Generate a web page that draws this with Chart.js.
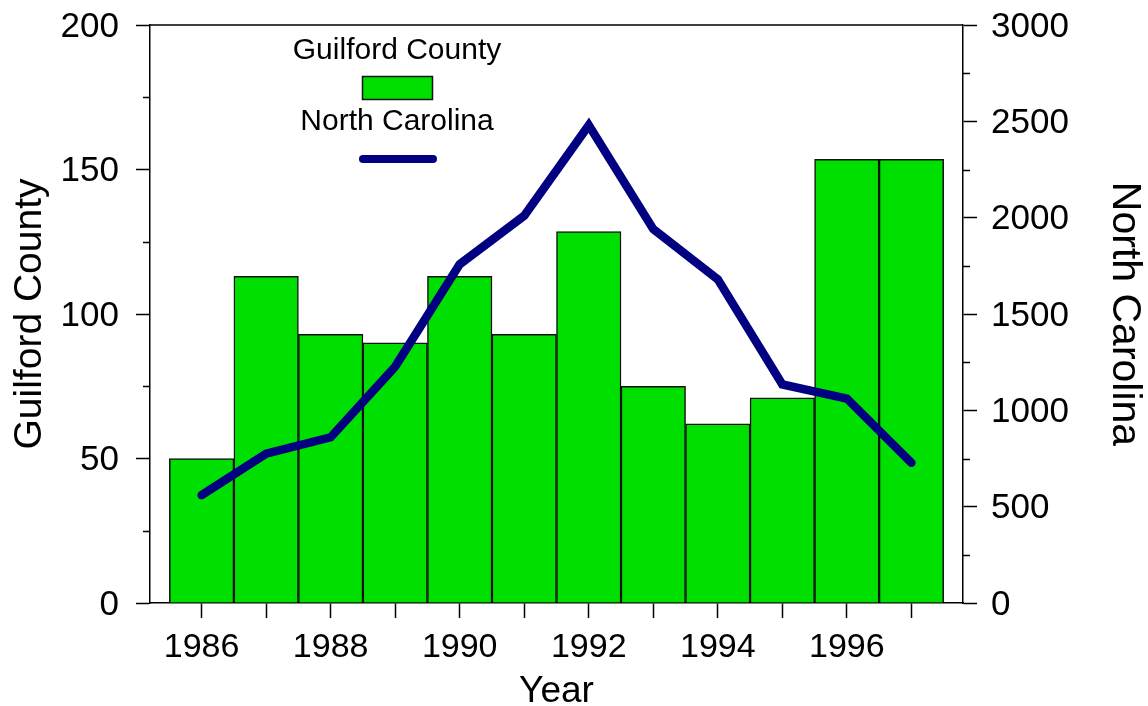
<!DOCTYPE html>
<html>
<head>
<meta charset="utf-8">
<title>Guilford County vs North Carolina</title>
<script src="https://cdn.jsdelivr.net/npm/chart.js@4.4.1/dist/chart.umd.min.js"></script>
<style>
  html, body { margin: 0; padding: 0; background: #fff; }
  #chart { display: block; }
</style>
</head>
<body>
<canvas id="chart" width="1148" height="706"></canvas>
<script>
// data
const years = [1986, 1987, 1988, 1989, 1990, 1991, 1992, 1993, 1994, 1995, 1996, 1997];
const guilfordCounty = [50, 113, 93, 90, 113, 93, 128.5, 75, 62, 71, 153.5, 153.5];
const northCarolina = [560, 775, 860, 1227, 1758, 2010, 2480, 1940, 1680, 1134, 1061, 728];
const leftTicks = [0, 50, 100, 150, 200];
const leftMinor = [25, 75, 125, 175];
const rightTicks = [0, 500, 1000, 1500, 2000, 2500, 3000];
const rightMinor = [250, 750, 1250, 1750, 2250, 2750];

const FONT = "'Liberation Sans', Arial, sans-serif";
const GREEN = '#00e000';
const NAVY = '#000080';

// minor ticks, top frame line and the in-plot legend
const framePlugin = {
    id: 'frame',
    afterDraw(chart) {
        const ctx = chart.ctx;
        const area = chart.chartArea;
        const y = chart.scales.y;
        const y2 = chart.scales.y2;
        ctx.save();
        ctx.strokeStyle = '#000';
        ctx.lineWidth = 1.5;
        ctx.beginPath();
        ctx.moveTo(area.left, area.top);
        ctx.lineTo(area.right, area.top);
        leftMinor.forEach(v => {
            const p = Math.round(y.getPixelForValue(v)) + 0.5;
            ctx.moveTo(area.left - 7, p);
            ctx.lineTo(area.left, p);
        });
        rightMinor.forEach(v => {
            const p = Math.round(y2.getPixelForValue(v)) + 0.5;
            ctx.moveTo(area.right, p);
            ctx.lineTo(area.right + 7, p);
        });
        ctx.stroke();

        // legend
        const ds = chart.data.datasets;
        const cx = 397;
        ctx.fillStyle = '#000';
        ctx.font = '30px ' + FONT;
        ctx.textAlign = 'center';
        ctx.textBaseline = 'middle';
        ctx.fillText(ds[1].label, cx, 51);
        ctx.fillStyle = GREEN;
        ctx.fillRect(362, 76, 70, 23);
        ctx.strokeStyle = '#111';
        ctx.lineWidth = 1.5;
        ctx.strokeRect(362.5, 76.5, 70, 23);
        ctx.fillStyle = '#000';
        ctx.fillText(ds[0].label, cx, 122);
        ctx.strokeStyle = NAVY;
        ctx.lineWidth = 8;
        ctx.lineCap = 'round';
        ctx.beginPath();
        ctx.moveTo(363, 159);
        ctx.lineTo(433, 159);
        ctx.stroke();
        ctx.restore();
    }
};

function fixY(width) {
    return s => {
        s.width = width;
        s.paddingTop = 0;
        s.paddingBottom = 0;
    };
}

const ctx = document.getElementById('chart');
new Chart(ctx, {
    type: 'bar',
    data: {
        datasets: [{
            type: 'line',
            label: 'North Carolina',
            data: years.map((yr, i) => ({ x: yr, y: northCarolina[i] })),
            yAxisID: 'y2',
            borderColor: NAVY,
            borderWidth: 8.5,
            borderCapStyle: 'round',
            borderJoinStyle: 'miter',
            pointRadius: 0,
            tension: 0,
            order: 0
        }, {
            type: 'bar',
            label: 'Guilford County',
            data: years.map((yr, i) => ({ x: yr, y: guilfordCounty[i] })),
            yAxisID: 'y',
            backgroundColor: GREEN,
            borderColor: '#111',
            borderWidth: 1.5,
            barPercentage: 1,
            categoryPercentage: 1,
            order: 1
        }]
    },
    options: {
        responsive: false,
        devicePixelRatio: 1,
        animation: false,
        layout: { padding: { top: 25, left: 0, right: 0, bottom: 0 } },
        plugins: {
            legend: { display: false },
            tooltip: { enabled: false }
        },
        scales: {
            x: {
                type: 'linear',
                min: 1985.2,
                max: 1997.8,
                offset: false,
                afterBuildTicks: s => { s.ticks = years.map(v => ({ value: v })); },
                afterFit: s => { s.height = 103; s.paddingLeft = 0; s.paddingRight = 0; },
                grid: { offset: false, drawOnChartArea: false, tickLength: 15, tickColor: '#000', tickWidth: 1.5 },
                border: { color: '#000', width: 1.5 },
                ticks: {
                    autoSkip: false,
                    maxRotation: 0,
                    padding: 9,
                    color: '#000',
                    font: { family: FONT, size: 34 },
                    callback: v => (v % 2 === 0 ? String(v) : '')
                },
                title: {
                    display: true,
                    text: 'Year',
                    color: '#000',
                    font: { family: FONT, size: 37, lineHeight: 0.75 },
                    padding: 0
                }
            },
            y: {
                position: 'left',
                min: 0,
                max: 200,
                afterBuildTicks: s => { s.ticks = leftTicks.map(v => ({ value: v })); },
                afterFit: fixY(150),
                grid: { drawOnChartArea: false, tickLength: 14, tickColor: '#000', tickWidth: 1.5 },
                border: { color: '#000', width: 1.5 },
                ticks: {
                    padding: 17,
                    labelOffset: 2,
                    color: '#000',
                    font: { family: FONT, size: 35 }
                },
                title: {
                    display: true,
                    text: 'Guilford County',
                    color: '#000',
                    font: { family: FONT, size: 39, lineHeight: 1 },
                    padding: { top: 11 }
                }
            },
            y2: {
                position: 'right',
                min: 0,
                max: 3000,
                afterBuildTicks: s => { s.ticks = rightTicks.map(v => ({ value: v })); },
                afterFit: fixY(185),
                grid: { drawOnChartArea: false, tickLength: 14, tickColor: '#000', tickWidth: 1.5 },
                border: { color: '#000', width: 1.5 },
                ticks: {
                    padding: 14,
                    labelOffset: 2,
                    color: '#000',
                    font: { family: FONT, size: 35 },
                    callback: v => String(v)
                },
                title: {
                    display: true,
                    text: 'North Carolina',
                    color: '#000',
                    font: { family: FONT, size: 41, lineHeight: 1 },
                    padding: { top: 3 }
                }
            }
        }
    },
    plugins: [framePlugin]
});
</script>
</body>
</html>
